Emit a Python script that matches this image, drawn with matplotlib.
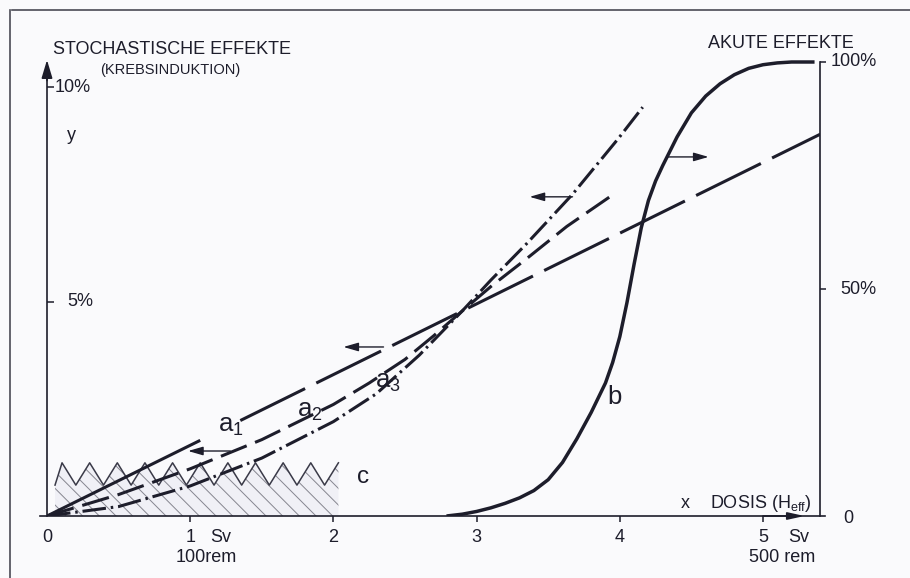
import matplotlib
matplotlib.use("Agg")
import matplotlib.pyplot as plt
from matplotlib.lines import Line2D
import numpy as np

plt.rcParams['font.family'] = ['Liberation Sans', 'DejaVu Sans']
plt.rcParams['mathtext.fontset'] = 'custom'
plt.rcParams['mathtext.rm'] = 'Liberation Sans'
plt.rcParams['mathtext.it'] = 'Liberation Sans'
plt.rcParams['lines.scale_dashes'] = False
plt.rcParams['hatch.linewidth'] = 0.7
plt.rcParams['hatch.color'] = '#85858f'

INK = '#1d1d2b'
BG = '#fafafc'

# ---------------- data (dose in Sv, stochastic effect in %, acute effect in %) ----------
a1_x = [0.0, 5.40]
a1_y = [0.0, 8.90]

a2_x = [0.0, 0.5, 1.0, 1.5, 2.0, 2.25, 2.5, 2.7, 2.9, 3.1, 3.35, 3.63, 3.93]
a2_y = [0.0, 0.50, 1.10, 1.78, 2.60, 3.10, 3.65, 4.20, 4.78, 5.35, 6.00, 6.75, 7.44]

a3_x = [0.0, 0.5, 1.0, 1.5, 2.0, 2.3, 2.6, 2.9, 3.1, 3.35, 3.67, 3.99, 4.16]
a3_y = [0.0, 0.22, 0.70, 1.35, 2.20, 2.85, 3.75, 4.78, 5.50, 6.35, 7.50, 8.80, 9.53]

b_x = [2.79, 2.9, 3.0, 3.1, 3.2, 3.3, 3.4, 3.5, 3.6, 3.7, 3.8, 3.9, 3.95, 4.0, 4.05,
       4.1, 4.15, 4.2, 4.25, 4.3, 4.4, 4.5, 4.6, 4.7, 4.8, 4.9, 5.0, 5.1, 5.2, 5.36]
b_y = [0.0, 0.4, 1.0, 1.8, 2.8, 4.0, 5.6, 8.0, 11.8, 17.0, 22.8, 29.3, 33.8, 39.5, 47.0,
       55.5, 63.5, 69.5, 73.8, 77.2, 83.5, 88.8, 92.5, 95.2, 97.2, 98.6, 99.4, 99.8, 100.0, 100.0]

# natural-background band "c" (zig-zag, %)
c_start, c_end = 0.056, 2.13
c_first_peak, c_period, c_teeth = 0.105, 0.193, 11
c_low, c_high = 0.72, 1.24

x_ticks = [1, 2, 3, 4, 5]
x_ticklabels = ['1', '2', '3', '4', '5']
left_ticks = [5, 10]
left_ticklabels = ['5%', '10%']
right_ticks = [50, 100]
right_ticklabels = ['50%', '100%']

# ---------------- figure ----------------
W, H = 910, 578
fig = plt.figure(figsize=(W / 100, H / 100), dpi=100, facecolor=BG)

px_per_sv = 143.2
px_per_pct = 42.9
x0_px, x1_px, y0_px, y1_px = 47, 820, 516, 40
ax = fig.add_axes([x0_px / W, (H - y0_px) / H, (x1_px - x0_px) / W, (y0_px - y1_px) / H])
ax.set_facecolor('none')
ax.set_xlim(0, (x1_px - x0_px) / px_per_sv)
ax.set_ylim(0, (y0_px - y1_px) / px_per_pct)
xmax = ax.get_xlim()[1]

ax2 = ax.twinx()
ax2.set_ylim(0, 100 * (y0_px - y1_px) / (y0_px - 62))

for a in (ax, ax2):
    for s in a.spines.values():
        s.set_visible(False)
        s.set_linewidth(1.2)
        s.set_color(INK)

ax.spines['left'].set_visible(True)
ax.spines['left'].set_bounds(0, 10.2)
ax.spines['bottom'].set_visible(True)
ax.spines['bottom'].set_bounds(-0.05, xmax + 0.035)
ax2.spines['right'].set_visible(True)
ax2.spines['right'].set_bounds(0, 100)

ax.set_xticks(x_ticks)
ax.set_xticklabels([])
ax.tick_params(axis='x', direction='out', length=4, width=1.1, color=INK)
ax.set_yticks(left_ticks)
ax.set_yticklabels([])
ax.tick_params(axis='y', direction='in', length=5, width=1.1, color=INK)
ax2.set_yticks(right_ticks)
ax2.set_yticklabels([])
ax2.tick_params(axis='y', direction='out', length=4.5, width=1.1, color=INK)

# axis arrow heads
ax.annotate('', xy=(0, 10.63), xytext=(0, 10.15),
            arrowprops=dict(arrowstyle='-|>,head_length=1.1,head_width=0.33',
                            lw=1.2, color=INK, shrinkA=0, shrinkB=0))
ax.annotate('', xy=(5.29, 0), xytext=(5.0, 0),
            arrowprops=dict(arrowstyle='-|>,head_length=1.0,head_width=0.22',
                            lw=1.2, color=INK, shrinkA=0, shrinkB=0))

# ---------------- band c ----------------
peaks = c_first_peak + c_period * np.arange(c_teeth)
valleys = peaks + c_period / 2
zx = np.concatenate([[c_start], np.ravel(np.column_stack([peaks, valleys]))])
zy = np.concatenate([[c_low], np.ravel(np.column_stack([np.full(c_teeth, c_high), np.full(c_teeth, c_low)]))])
keep = zx <= c_end
zx, zy = zx[keep], zy[keep]
ax.fill_between(zx, 0, zy, facecolor='#f0f0f6', edgecolor='#85858f', hatch='\\\\', linewidth=0, zorder=1)
ax.plot(zx, zy, color='#3a3a48', lw=1.1, zorder=2)

# ---------------- curves ----------------
lw = 2.2
solid_end, dash_start = 1.07, 1.35
xs = np.array([0.0, solid_end])
ax.plot(xs, np.interp(xs, a1_x, a1_y), color=INK, lw=lw, solid_capstyle='butt', zorder=3)
xd = np.array([dash_start, a1_x[-1]])
ax.plot(xd, np.interp(xd, a1_x, a1_y), color=INK, lw=lw, dashes=(52, 9), dash_capstyle='butt', zorder=3)
ax.plot(a2_x, a2_y, color=INK, lw=lw, dashes=(20, 6.5), dash_capstyle='butt', zorder=3)
ax.plot(a3_x, a3_y, color=INK, lw=lw, dashes=(17, 3.5, 1.8, 3.5), dash_capstyle='butt', zorder=3)
ax2.plot(b_x, b_y, color=INK, lw=lw + 0.3, solid_capstyle='butt', solid_joinstyle='round', zorder=3)

# small direction arrows
arrow_kw = dict(arrowstyle='-|>,head_length=0.9,head_width=0.26', lw=1.0, color=INK, shrinkA=0, shrinkB=0)
for (xt, xh, yy) in [(1.28, 0.985, 1.515), (2.35, 2.07, 3.94), (3.67, 3.37, 7.44), (4.33, 4.62, 8.37)]:
    ax.annotate('', xy=(xh, yy), xytext=(xt, yy), arrowprops=arrow_kw, zorder=4)

# ---------------- labels ----------------
lab = 18.5
ax.text(1.194, 1.958, r'$\mathregular{a_1}$', fontsize=lab, color=INK, ha='left', va='baseline')
ax.text(1.746, 2.31, r'$\mathregular{a_2}$', fontsize=lab, color=INK, ha='left', va='baseline')
ax.text(2.29, 2.98, r'$\mathregular{a_3}$', fontsize=lab, color=INK, ha='left', va='baseline')
ax.text(3.91, 2.61, 'b', fontsize=lab, color=INK, ha='left', va='baseline')
ax.text(2.165, 0.77, 'c', fontsize=lab - 1, color=INK, ha='left', va='baseline')

tk = 13
ax.text(0.056, 10, left_ticklabels[1], fontsize=tk, color=INK, ha='left', va='center')
ax.text(0.14, 5, left_ticklabels[0], fontsize=tk, color=INK, ha='left', va='center')
yb = -0.49
ax.text(0, yb, '0', fontsize=tk, color=INK, ha='center', va='center')
for t, l in zip(x_ticks, x_ticklabels):
    ax.text(t, yb, l, fontsize=tk, color=INK, ha='center', va='center')
ax.text(1.14, yb, 'Sv', fontsize=tk, color=INK, ha='left', va='center')
ax.text(1.114, -0.956, '100rem', fontsize=tk, color=INK, ha='center', va='center')
ax.text(5.175, yb, 'Sv', fontsize=tk, color=INK, ha='left', va='center')
ax.text(5.136, -0.956, '500 rem', fontsize=tk, color=INK, ha='center', va='center')

ax2.text(xmax + 20 / px_per_sv, 50, right_ticklabels[0], fontsize=tk, color=INK, ha='left', va='center')
ax2.text(xmax + 11 / px_per_sv, 100, right_ticklabels[1], fontsize=tk, color=INK, ha='left', va='center')
ax2.text(xmax + 28 / px_per_sv, -0.5, '0', fontsize=tk, color=INK, ha='center', va='center')

ax.text(4.46, 0.3, 'x', fontsize=tk, color=INK, ha='center', va='center')
ax.text(4.63, 0.3, r'DOSIS (H$_{\mathregular{eff}}$)', fontsize=tk, color=INK, ha='left', va='center')
ax.text(0.14, 8.88, 'y', fontsize=tk, color=INK, ha='left', va='center')

fig.text(53 / W, 1 - 54 / H, 'STOCHASTISCHE EFFEKTE', fontsize=13, color=INK, ha='left', va='baseline')
fig.text(100 / W, 1 - 74 / H, '(KREBSINDUKTION)', fontsize=10.5, color=INK, ha='left', va='baseline')
fig.text(708 / W, 1 - 48 / H, 'AKUTE EFFEKTE', fontsize=13, color=INK, ha='left', va='baseline')

# outer frame
fig.add_artist(Line2D([12 / W, 1.0], [1 - 10 / H, 1 - 10 / H], color='#4a4a55', lw=1.2))
fig.add_artist(Line2D([10 / W, 10 / W], [0.0, 1 - 10 / H], color='#4a4a55', lw=1.2))

fig.savefig('out.png', dpi=100, facecolor=BG)
